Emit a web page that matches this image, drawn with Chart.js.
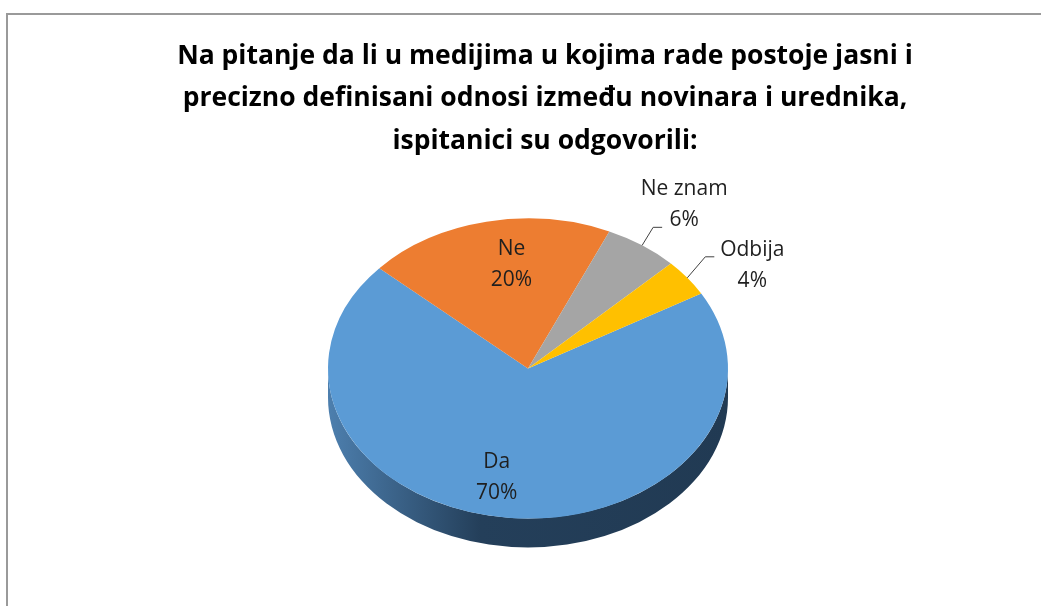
<!DOCTYPE html>
<html>
<head>
<meta charset="utf-8">
<script src="https://cdn.jsdelivr.net/npm/chart.js@4.4.0/dist/chart.umd.min.js"></script>
<style>
  html, body { margin: 0; padding: 0; background: #fff; overflow: hidden; }
  #frame {
    position: absolute; left: 6px; top: 13px; width: 1100px; height: 700px;
    border-top: 2px solid #9a9a9a; border-left: 2px solid #9a9a9a;
  }
  #wrap { position: absolute; left: 0; top: 0; width: 1041px; height: 606px; }
</style>
</head>
<body>
<div id="frame"></div>
<div id="wrap"><canvas id="pie" width="1041" height="606"></canvas></div>
<script>
const titleLines = [
  "Na pitanje da li u medijima u kojima rade postoje jasni i",
  "precizno definisani odnosi između novinara i urednika,",
  "ispitanici su odgovorili:",
];
const categories = ["Da", "Ne", "Ne znam", "Odbija"];
const shares = [70, 20, 6, 4];

const sliceColors = ["#5B9BD5", "#ED7D31", "#A5A5A5", "#FFC000"];
// left / middle / right shade of the visible wall
const sideColors = [
  ["#4d7fae", "#243f5a", "#213a53"],
  ["#b85f22", "#7a3e15", "#6e3812"],
  ["#808080", "#575757", "#4f4f4f"],
  ["#c79500", "#866400", "#7a5b00"],
];

const TILT = 0.75;    // vertical squash of the top face
const DEPTH = 29;     // thickness of the pie
const SHIFT_X = -17;  // pie sits a little left of the title centre

// where each label goes: inside at a radius fraction, or outside with a leader
const labelPlace = [
  { r: 0.73, d: [-16, 0] },
  { r: 0.71, d: [13, 0] },
  { outside: true, elbow: [11, -18], text: [31, -23] },
  { outside: true, elbow: [18, -21], text: [47, 8] },
];

const pie3d = {
  id: "pie3d",
  beforeDatasetsDraw(chart) {
    const ctx = chart.ctx;
    const arcs = chart.getDatasetMeta(0).data;
    ctx.save();
    ctx.translate(SHIFT_X, 0);
    if (!arcs.length) return;
    const { x, y } = arcs[0];

    // side walls, only the front half (0..PI) is visible
    arcs.forEach((arc, i) => {
      const p = arc.getProps(["startAngle", "endAngle", "outerRadius"]);
      const r = p.outerRadius;
      let s = p.startAngle % (2 * Math.PI);
      if (s < 0) s += 2 * Math.PI;
      const e = s + (p.endAngle - p.startAngle);
      [[0, Math.PI], [2 * Math.PI, 3 * Math.PI]].forEach(([lo, hi]) => {
        const a0 = Math.max(s, lo), a1 = Math.min(e, hi);
        if (a1 <= a0) return;
        const g = ctx.createLinearGradient(x - r, 0, x + r, 0);
        g.addColorStop(0, sideColors[i][0]);
        g.addColorStop(0.38, sideColors[i][1]);
        g.addColorStop(1, sideColors[i][2]);
        ctx.beginPath();
        ctx.ellipse(x, y, r, r * TILT, 0, a0, a1);
        ctx.ellipse(x, y + DEPTH, r, r * TILT, 0, a1, a0, true);
        ctx.closePath();
        ctx.fillStyle = g;
        ctx.fill();
      });
    });

    // squash the top face into an ellipse
    ctx.translate(0, y);
    ctx.scale(1, TILT);
    ctx.translate(0, -y);
  },
  afterDatasetsDraw(chart) {
    chart.ctx.restore();
  },
};

const pieLabels = {
  id: "pieLabels",
  afterDraw(chart) {
    const ctx = chart.ctx;
    const arcs = chart.getDatasetMeta(0).data;
    const total = shares.reduce((a, b) => a + b, 0);
    ctx.save();
    ctx.font = "21px 'Open Sans'";
    ctx.fillStyle = "#1f1f1f";
    ctx.textAlign = "center";
    ctx.textBaseline = "middle";
    arcs.forEach((arc, i) => {
      const p = arc.getProps(["x", "y", "startAngle", "endAngle", "outerRadius"]);
      const mid = (p.startAngle + p.endAngle) / 2;
      const place = labelPlace[i];
      const at = (rf) => ({
        x: p.x + SHIFT_X + Math.cos(mid) * p.outerRadius * rf,
        y: p.y + Math.sin(mid) * p.outerRadius * rf * TILT,
      });
      let c;
      if (place.outside) {
        const edge = at(1);
        const elbow = { x: edge.x + place.elbow[0], y: edge.y + place.elbow[1] };
        ctx.strokeStyle = "#404040";
        ctx.lineWidth = 1;
        ctx.beginPath();
        ctx.moveTo(edge.x, edge.y);
        ctx.lineTo(elbow.x, elbow.y);
        ctx.lineTo(elbow.x + 9, elbow.y);
        ctx.stroke();
        c = { x: elbow.x + place.text[0], y: elbow.y + place.text[1] };
      } else {
        const m = at(place.r);
        c = { x: m.x + place.d[0], y: m.y + place.d[1] };
      }
      ctx.fillText(categories[i], c.x, c.y - 15);
      ctx.fillText(Math.round(shares[i] / total * 100) + "%", c.x, c.y + 16);
    });
    ctx.restore();
  },
};

new Chart(document.getElementById("pie"), {
  type: "pie",
  data: {
    labels: categories,
    datasets: [{
      data: shares,
      backgroundColor: sliceColors,
      borderWidth: 0,
      hoverBorderWidth: 0,
      hoverOffset: 0,
    }],
  },
  options: {
    responsive: false,
    animation: false,
    rotation: 60,
    layout: { padding: { left: 49, right: 0, top: 0, bottom: 37.5 } },
    plugins: {
      legend: { display: false },
      tooltip: { enabled: false },
      title: {
        display: true,
        text: titleLines,
        color: "#000",
        font: { family: "'Open Sans'", size: 26.5, weight: "bold", lineHeight: 1.6 },
        padding: { top: 35, bottom: 6.3 },
      },
    },
  },
  plugins: [pie3d, pieLabels],
});
</script>
</body>
</html>
